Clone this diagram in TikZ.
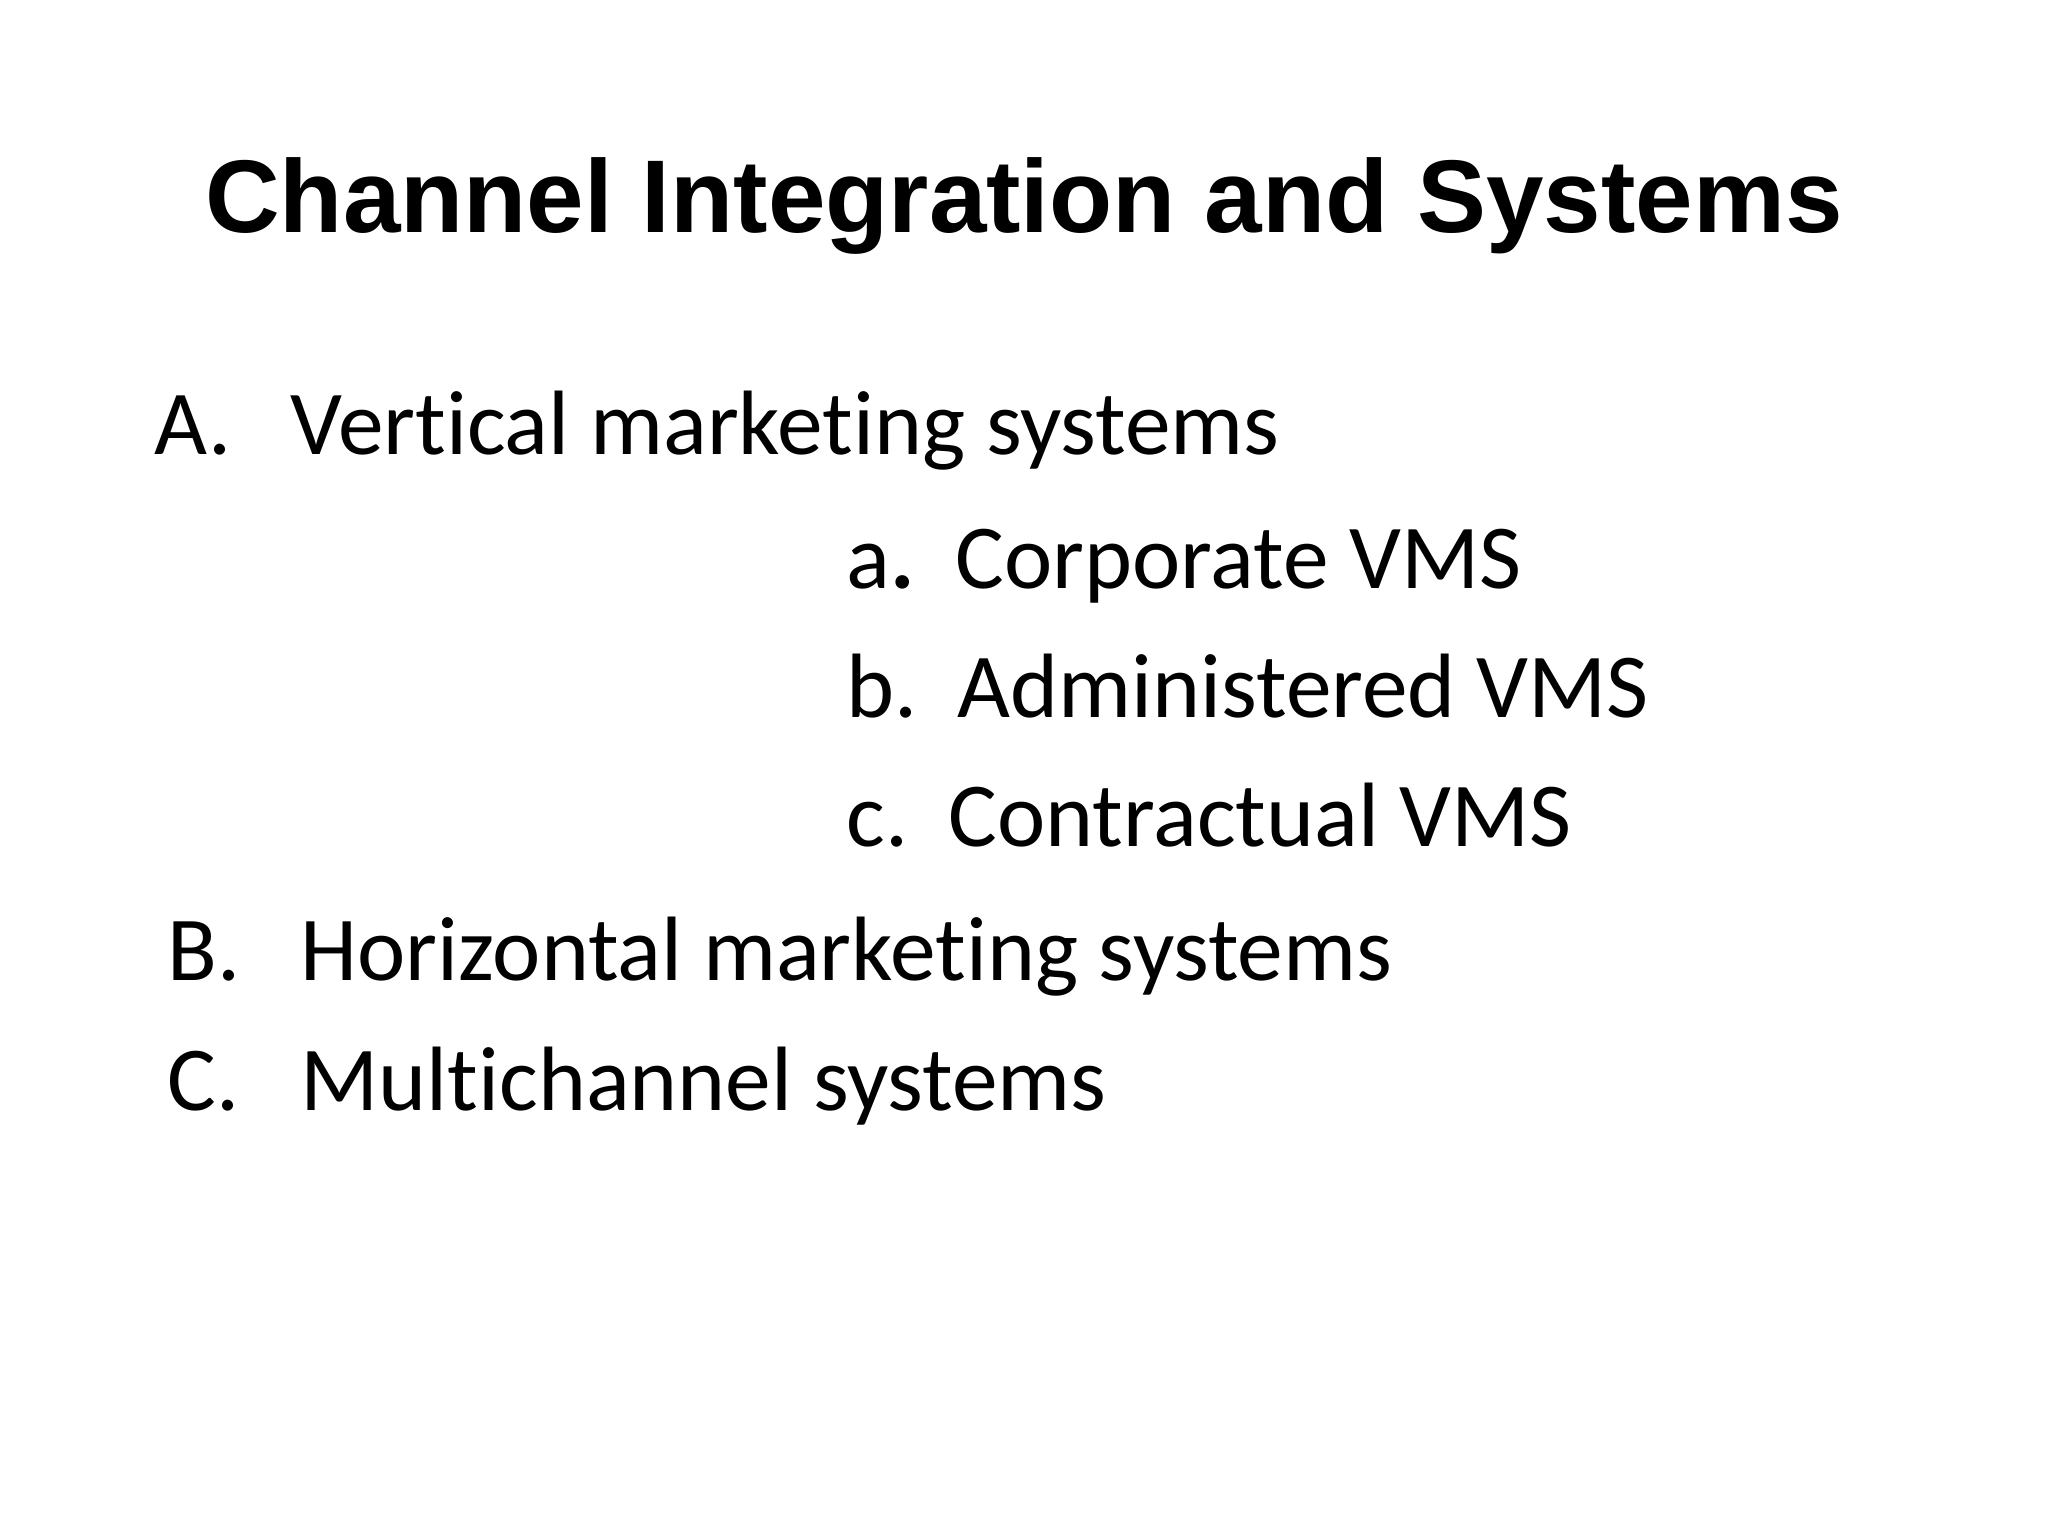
\documentclass[tikz,border=0pt]{standalone}
\usepackage{fontspec}
\setmainfont{Carlito}[Ligatures=NoCommon]
\newfontfamily\titlefont{Liberation Sans}
\begin{document}
\begin{tikzpicture}[x=0.01cm,y=-0.01cm,
  ttl/.style={inner sep=0pt,anchor=base,font=\titlefont\bfseries\fontsize{29.4}{36}\selectfont},
  itm/.style={inner sep=0pt,anchor=base west,font=\fontsize{26}{31}\selectfont}]
\useasboundingbox[fill=white] (0,0) rectangle (2048,1536);
\node[ttl] (title) at (1024,232) {Channel Integration and Systems};
\node[itm] (Al) at (154,454) {A.};
\node[itm] (At) at (290,454) {Vertical marketing systems};
\node[itm] (al) at (846,588) {a\textbf{.}};
\node[itm] (at) at (955,588) {Corporate VMS};
\node[itm] (bl) at (846,717) {b.};
\node[itm] (bt) at (957,717) {Administered VMS};
\node[itm] (cl) at (846,846) {c.};
\node[itm] (ct) at (948,846) {Contractual VMS};
\node[itm] (Bl) at (167,980) {B.};
\node[itm] (Bt) at (300,980) {Horizontal marketing systems};
\node[itm] (Cl) at (167,1110) {C.};
\node[itm] (Ct) at (300,1110) {Multichannel systems};
\end{tikzpicture}
\end{document}
